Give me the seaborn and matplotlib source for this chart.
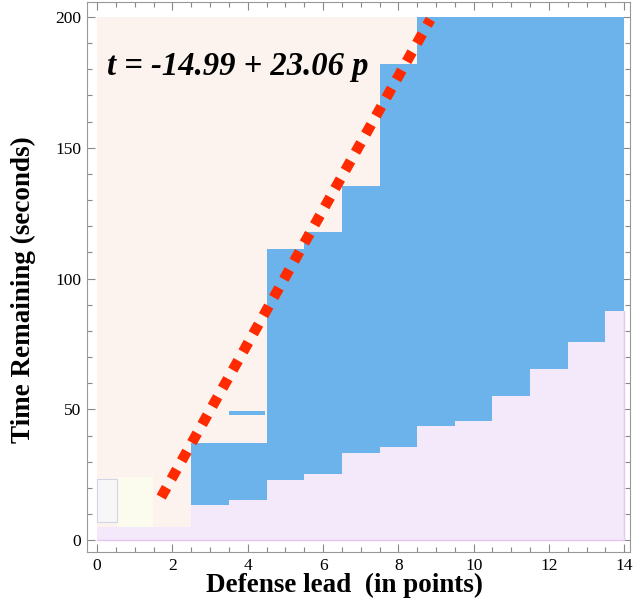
import numpy as np
import pandas as pd
import matplotlib
matplotlib.use("Agg")
import matplotlib.pyplot as plt
import seaborn as sns

# step edges (defense lead) and the boundaries of the blue band
lead_edges = [2.5, 3.5, 4.5, 5.5, 6.5, 7.5, 8.5, 9.5, 10.5, 11.5, 12.5, 13.5, 14.0]
lower_time = [13.4, 15.3, 23.2, 25.4, 33.3, 35.5, 43.5, 45.4, 55.3, 65.5, 75.6, 87.5]
upper_time = [37.0, 37.0, 111.3, 117.7, 135.5, 182.0, 200, 200, 200, 200, 200, 200]

# small blue sliver near lead 3.5-4.5
sliver_lead = [3.5, 4.45]
sliver_time = [47.7, 49.3]

# fitted line as drawn
line_lead = [1.7, 8.85]
line_time = [16.5, 199.0]
equation = "t = -14.99 + 23.06 p"

# faint boxes in the lower-left corner
box_gray = dict(lead=[0.0, 0.53], time=[6.9, 23.3])
box_yellow = dict(lead=[0.53, 1.48], time=[3.8, 24.0])

peach = "#fcf3ee"
lavender = "#f4e8fb"
blue = "#6cb3ec"
red = "#ff2a00"

sns.set_style("ticks")
plt.rcParams["font.family"] = ["Liberation Serif", "DejaVu Serif"]
plt.rcParams["text.color"] = "black"
plt.rcParams["axes.labelcolor"] = "black"

fig = plt.figure(figsize=(6.35, 6.04), dpi=100)
ax = fig.add_axes([0.137, 0.086, 0.855, 0.91])

# peach background region
ax.fill_between([0, 8.5], 4.6, 200, color=peach, lw=0, zorder=1)
ax.fill_between(box_yellow["lead"], box_yellow["time"][0], box_yellow["time"][1],
                color="#fbfbee", lw=0, zorder=1.5)
ax.fill_between(box_gray["lead"], box_gray["time"][0], box_gray["time"][1],
                facecolor="#f7f7f7", edgecolor="#d4d4e6", lw=0.8, zorder=1.6)

# lavender bottom region
x_low = [0] + lead_edges
y_low = [5.0] + lower_time + [lower_time[-1]]
ax.fill_between(x_low, 0, y_low, step="post", color=lavender, lw=0, zorder=2)
ax.plot([0, 14, 14], [0.2, 0.2, lower_time[-1]], color="#e4c8f2", lw=1, zorder=2.5)

# blue band
y_lo = lower_time + [lower_time[-1]]
y_hi = upper_time + [upper_time[-1]]
ax.fill_between(lead_edges, y_lo, y_hi, step="post", color=blue, lw=0, zorder=3)
ax.fill_between(sliver_lead, sliver_time[0], sliver_time[1], color=blue, lw=0, zorder=3)

# dashed fit line
df_line = pd.DataFrame({"lead": line_lead, "time": line_time})
sns.lineplot(data=df_line, x="lead", y="time", ax=ax, color=red, lw=7.5,
             dashes=False, zorder=4)
ax.lines[-1].set_dashes([1.05, 0.95])
ax.lines[-1].set_dash_capstyle("butt")

ax.text(0.27, 181, equation, fontsize=23.5, fontweight="bold", fontstyle="italic",
        ha="left", va="center", zorder=5)

ax.set_xlim(-0.27, 14.15)
ax.set_ylim(-4.5, 205.5)
ax.set_xticks(np.arange(0, 15, 2))
ax.set_xticks(np.arange(0, 14.01, 0.5), minor=True)
ax.set_yticks(np.arange(0, 201, 50))
ax.set_yticks(np.arange(0, 201, 10), minor=True)
ax.tick_params(which="both", direction="in", top=True, right=True,
               color="#888888", width=0.8, labelsize=12.5, labelcolor="black", pad=4)
ax.tick_params(which="major", length=6)
ax.tick_params(which="minor", length=3.5)
for s in ax.spines.values():
    s.set_color("#999999")
    s.set_linewidth(0.8)

ax.set_xlabel("Defense lead  (in points)", fontsize=19.5, fontweight="bold")
ax.set_ylabel("Time Remaining (seconds)", fontsize=19.5, fontweight="bold")
ax.xaxis.set_label_coords(0.474, -0.038)
ax.yaxis.set_label_coords(-0.094, 0.477)

fig.savefig("out.png", dpi=100)
